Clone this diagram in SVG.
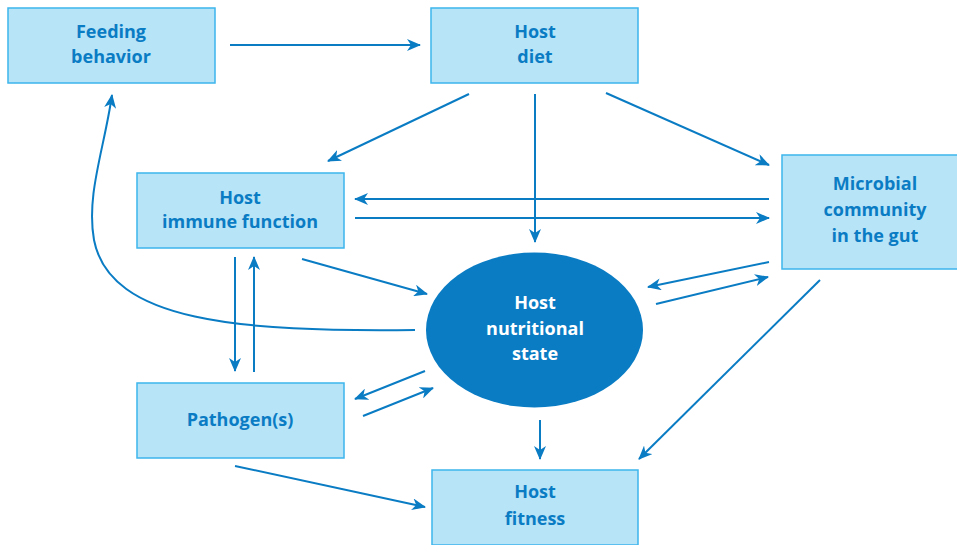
<svg xmlns="http://www.w3.org/2000/svg" width="957" height="545" viewBox="0 0 957 545">
<style>
.box rect{fill:#b8e4f8;stroke:#3db5ec;stroke-width:1.5}
.lbl{font-family:"Open Sans","Noto Sans","Liberation Sans",sans-serif;font-weight:700;font-size:18px;fill:#0a7cc4;text-anchor:middle}
.wl{fill:#ffffff}
.c path,.c line{stroke:#0a7cc4;stroke-width:2;fill:none;marker-end:url(#ah)}
</style>
<defs>
<marker id="ah" markerUnits="userSpaceOnUse" markerWidth="14" markerHeight="12" viewBox="0 0 14 12" refX="13" refY="6" orient="auto">
<path d="M0,0 L14,6 L0,12 L4,6 z" fill="#0a7cc4"/>
</marker>
</defs>
<g class="c" id="connectors">
<line x1="230" y1="45" x2="420" y2="45"/>
<line x1="469" y1="94" x2="328" y2="161"/>
<line x1="535" y1="94" x2="535" y2="242"/>
<line x1="606" y1="93" x2="769" y2="165"/>
<line x1="769" y1="199" x2="355" y2="199"/>
<line x1="355" y1="218" x2="769" y2="218"/>
<line x1="302" y1="259" x2="427" y2="294"/>
<path d="M415,330 C240,332 110,322 94,240 C86,195 104,150 112,95"/>
<line x1="235" y1="257" x2="235" y2="371"/>
<line x1="254" y1="372" x2="254" y2="257"/>
<line x1="425" y1="371" x2="355" y2="399"/>
<line x1="363" y1="416" x2="433" y2="388"/>
<line x1="235" y1="466" x2="425" y2="507"/>
<line x1="540" y1="420" x2="540" y2="459"/>
<line x1="820" y1="280" x2="639" y2="459"/>
<line x1="769" y1="262" x2="648" y2="287"/>
<line x1="656" y1="304" x2="768" y2="277"/>
</g>
<g id="feeding" class="box"><rect x="8" y="8" width="207" height="75"/><text class="lbl" x="111" y="38">Feeding</text><text class="lbl" x="111" y="63">behavior</text></g>
<g id="diet" class="box"><rect x="431" y="8" width="207" height="75"/><text class="lbl" x="535" y="38">Host</text><text class="lbl" x="535" y="63">diet</text></g>
<g id="immune" class="box"><rect x="137" y="173" width="207" height="75"/><text class="lbl" x="240" y="204">Host</text><text class="lbl" x="240" y="228">immune function</text></g>
<g id="microbial" class="box"><rect x="782" y="155" width="176" height="114"/><text class="lbl" x="875" y="190">Microbial</text><text class="lbl" x="875" y="216">community</text><text class="lbl" x="875" y="242">in the gut</text></g>
<g id="nutrition"><ellipse cx="534.5" cy="330" rx="108.5" ry="77.5" fill="#0a7cc4"/><text class="lbl wl" x="535" y="309">Host</text><text class="lbl wl" x="535" y="335">nutritional</text><text class="lbl wl" x="535" y="360">state</text></g>
<g id="pathogen" class="box"><rect x="137" y="383" width="207" height="75"/><text class="lbl" x="240" y="426">Pathogen(s)</text></g>
<g id="fitness" class="box"><rect x="432" y="470" width="206" height="75"/><text class="lbl" x="535" y="498">Host</text><text class="lbl" x="535" y="525">fitness</text></g>
</svg>
